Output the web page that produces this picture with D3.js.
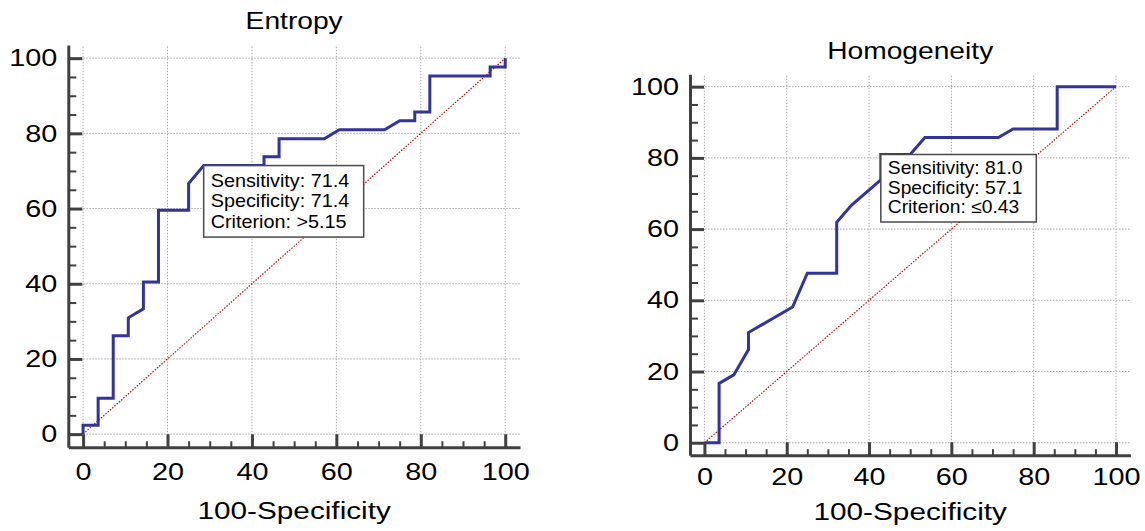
<!DOCTYPE html>
<html><head><meta charset="utf-8">
<script src="https://cdn.jsdelivr.net/npm/d3@7"></script>
<style>
body{margin:0;background:#fff}
svg{display:block;background:#fff}
text{font-family:"Liberation Sans",Arial,Helvetica,sans-serif;fill:#000}
</style>
</head><body>
<svg id="c" width="1145" height="531"></svg>
<script>
// ---- data ----
const majorTicks = [0, 20, 40, 60, 80, 100];
const minorTicks = [5, 10, 15, 25, 30, 35, 45, 50, 55, 65, 70, 75, 85, 90, 95];
const tickLabels = ["0", "20", "40", "60", "80", "100"];
const xTitle = "100-Specificity";
const titles = ["Entropy", "Homogeneity"];

const entropyX = [0, 0, 3.57, 3.57, 7.14, 7.14, 10.71, 10.71, 14.29, 14.29, 17.86, 17.86, 25, 25, 28.57, 42.86, 42.86, 46.43, 46.43, 57.14, 60.71, 71.43, 75, 78.57, 78.57, 82.14, 82.14, 96.43, 96.43, 100, 100];
const entropyY = [0, 2.38, 2.38, 9.52, 9.52, 26.19, 26.19, 30.95, 33.33, 40.48, 40.48, 59.52, 59.52, 66.67, 71.43, 71.43, 73.81, 73.81, 78.57, 78.57, 80.95, 80.95, 83.33, 83.33, 85.71, 85.71, 95.24, 95.24, 97.62, 97.62, 100];

const homogX = [0, 3.57, 3.57, 7.14, 10.71, 10.71, 21.43, 25, 32.14, 32.14, 35.71, 42.86, 42.86, 50, 53.57, 71.43, 75, 85.71, 85.71, 100];
const homogY = [0, 0, 16.67, 19.05, 26.19, 30.95, 38.10, 47.62, 47.62, 61.90, 66.67, 73.81, 80.95, 80.95, 85.71, 85.71, 88.10, 88.10, 100, 100];

const entropyCrit = [28.57, 71.43];
const homogCrit = [42.86, 80.95];
const entropyBox = ["Sensitivity: 71.4", "Specificity: 71.4", "Criterion: >5.15"];
const homogBox = ["Sensitivity: 81.0", "Specificity: 57.1", "Criterion: \u22640.43"];

const domain = [-3.5, 103.5];

// ---- layout ----
const layouts = [
  {x0: 68.3, x1: 520, y0: 447.3, y1: 45, titleY: 29.3, xlabY: 519, xPad: 15.5,
   boxW: 160, boxH: 71.5, boxFont: 18, boxLine: 20.5, boxFirst: 21, boxPadX: 7},
  {x0: 690, x1: 1130.4, y0: 455.2, y1: 74.2, titleY: 59.3, xlabY: 520, xPad: 13,
   boxW: 155.5, boxH: 67.5, boxFont: 17.5, boxLine: 19.3, boxFirst: 20, boxPadX: 7}
];

const SX = 1.2; // horizontal text stretch
const svg = d3.select("#c");

function drawROC(L, title, xs, ys, crit, boxLines) {
  const g = svg.append("g");
  const x = d3.scaleLinear().domain(domain).range([L.x0, L.x1]);
  const y = d3.scaleLinear().domain(domain).range([L.y0, L.y1]);

  // grid
  g.append("g").selectAll("line").data(majorTicks).join("line")
    .attr("x1", d => x(d)).attr("x2", d => x(d))
    .attr("y1", L.y0).attr("y2", L.y1)
    .attr("stroke", "#a8a8a8").attr("stroke-width", 1).attr("stroke-dasharray", "1.5,1.5");
  g.append("g").selectAll("line").data(majorTicks).join("line")
    .attr("x1", L.x0).attr("x2", L.x1)
    .attr("y1", d => y(d)).attr("y2", d => y(d))
    .attr("stroke", "#a8a8a8").attr("stroke-width", 1).attr("stroke-dasharray", "1.5,1.5");

  // minor axes
  const minorX = d3.axisBottom(x).tickValues(minorTicks).tickFormat("").tickSize(-6).tickSizeOuter(0);
  const minorY = d3.axisLeft(y).tickValues(minorTicks).tickFormat("").tickSize(-8).tickSizeOuter(0);
  const mx = g.append("g").attr("transform", `translate(0,${L.y0})`).call(minorX);
  const my = g.append("g").attr("transform", `translate(${L.x0},0)`).call(minorY);
  [mx, my].forEach(a => {
    a.select(".domain").remove();
    a.selectAll("line").attr("stroke", "#404040").attr("stroke-width", 2);
  });

  // major axes
  const axX = d3.axisBottom(x).tickValues(majorTicks).tickFormat((d, i) => tickLabels[i])
    .tickSize(-13).tickSizeOuter(0).tickPadding(L.xPad);
  const axY = d3.axisLeft(y).tickValues(majorTicks).tickFormat((d, i) => tickLabels[i])
    .tickSize(-14).tickSizeOuter(0).tickPadding(11);
  const gx = g.append("g").attr("transform", `translate(0,${L.y0})`).call(axX);
  const gy = g.append("g").attr("transform", `translate(${L.x0},0)`).call(axY);
  [gx, gy].forEach(a => {
    a.select(".domain").attr("stroke", "#404040").attr("stroke-width", 3);
    a.selectAll(".tick line").attr("stroke", "#404040").attr("stroke-width", 3);
    a.selectAll(".tick text").attr("font-size", 24).attr("fill", "#000")
      .attr("font-family", '"Liberation Sans", Arial, sans-serif');
  });
  gx.selectAll(".tick text").attr("transform", `scale(${SX},1)`);
  gy.selectAll(".tick text").attr("x", -11 / SX).attr("transform", `scale(${SX},1)`);

  const cx = (L.x0 + L.x1) / 2;
  // title
  g.append("text").attr("transform", `translate(${cx},${L.titleY}) scale(${SX},1)`)
    .attr("text-anchor", "middle").attr("font-size", 23.5).text(title);
  // x label
  g.append("text").attr("transform", `translate(${cx},${L.xlabY}) scale(${SX + 0.04},1)`)
    .attr("text-anchor", "middle").attr("font-size", 24).text(xTitle);

  // reference diagonal
  g.append("line")
    .attr("x1", x(0)).attr("y1", y(0)).attr("x2", x(100)).attr("y2", y(100))
    .attr("stroke", "#b01010").attr("stroke-width", 1.2).attr("stroke-dasharray", "1.5,1.5");

  // ROC curve
  const pts = xs.map((v, i) => [v, ys[i]]);
  g.append("path").datum(pts)
    .attr("d", d3.line().x(d => x(d[0])).y(d => y(d[1])))
    .attr("fill", "none").attr("stroke", "#33339c").attr("stroke-width", 3)
    .attr("stroke-linejoin", "miter");

  // criterion box
  const bx = x(crit[0]), by = y(crit[1]);
  g.append("rect").attr("x", bx).attr("y", by).attr("width", L.boxW).attr("height", L.boxH)
    .attr("fill", "#fff").attr("stroke", "#4a4a4a").attr("stroke-width", 1.5);
  boxLines.forEach((t, i) => {
    g.append("text")
      .attr("transform", `translate(${bx + L.boxPadX},${by + L.boxFirst + i * L.boxLine}) scale(1.1,1)`)
      .attr("font-size", L.boxFont).text(t);
  });
}

drawROC(layouts[0], titles[0], entropyX, entropyY, entropyCrit, entropyBox);
drawROC(layouts[1], titles[1], homogX, homogY, homogCrit, homogBox);
</script>
</body></html>
